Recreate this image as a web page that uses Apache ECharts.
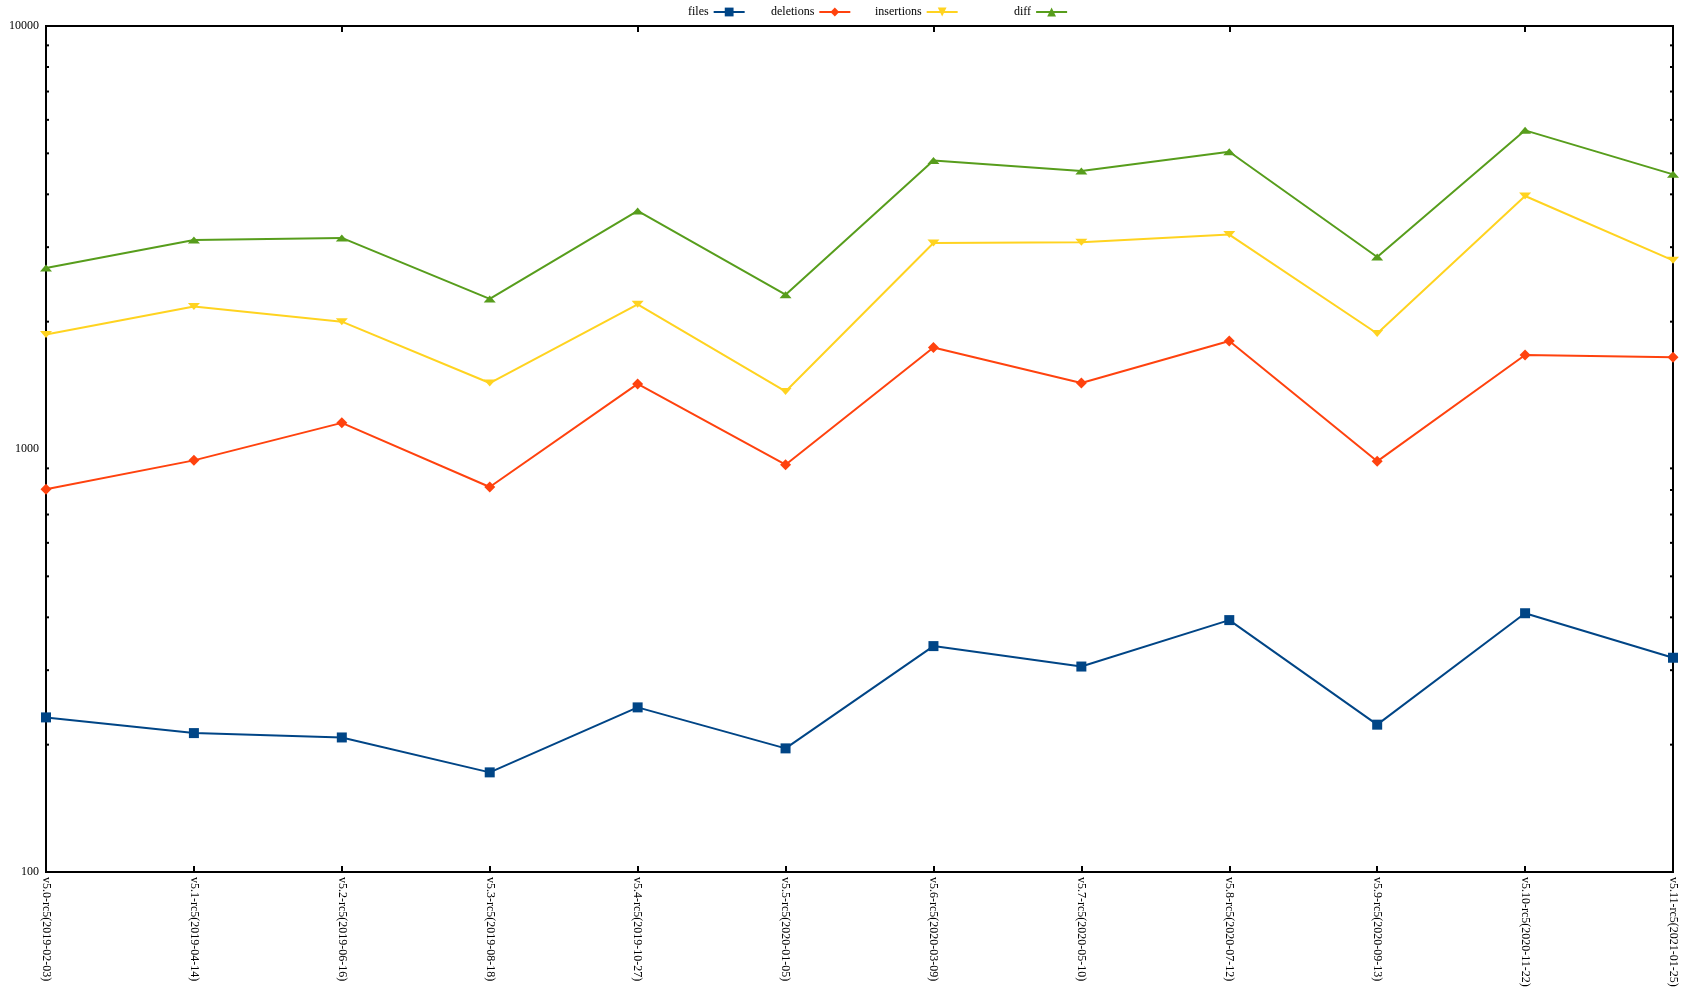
<!DOCTYPE html>
<html><head><meta charset="utf-8">
<script src="https://cdn.jsdelivr.net/npm/echarts@6/dist/echarts.min.js"></script>
<style>html,body{margin:0;padding:0;background:#fff}#c{width:1684px;height:1008px}</style>
</head><body><div id="c"></div>
<script>
var categories = ['v5.0-rc5(2019-02-03)','v5.1-rc5(2019-04-14)','v5.2-rc5(2019-06-16)','v5.3-rc5(2019-08-18)','v5.4-rc5(2019-10-27)','v5.5-rc5(2020-01-05)','v5.6-rc5(2020-03-09)','v5.7-rc5(2020-05-10)','v5.8-rc5(2020-07-12)','v5.9-rc5(2020-09-13)','v5.10-rc5(2020-11-22)','v5.11-rc5(2021-01-25)'];
var files      = [232, 213, 208, 172, 245, 196, 342, 306, 394, 223, 409, 321];
var deletions  = [803, 940, 1153, 813, 1425, 918, 1738, 1432, 1800, 935, 1668, 1648];
var insertions = [1866, 2173, 2000, 1432, 2198, 1368, 3068, 3083, 3213, 1875, 3963, 2793];
var diff       = [2679, 3119, 3155, 2264, 3654, 2317, 4810, 4539, 5043, 2843, 5666, 4459];
var minorTicks = [200,300,400,500,600,700,800,900,2000,3000,4000,5000,6000,7000,8000,9000];

var font = '"Liberation Serif", "DejaVu Serif", serif';
var colors = ['#004586', '#ff420e', '#ffd320', '#579d1c'];
function mkLegend(name, left) {
  return {data: [name], left: left, top: 6, padding: 0, align: 'right', itemWidth: 31, itemHeight: 11, itemGap: 0,
    textStyle: {fontFamily: font, fontSize: 12, color: '#000'}, selectedMode: false};
}
function lineSeries(name, data, symbol, rotate, size, color) {
  return {name: name, type: 'line', data: data, symbol: symbol, symbolRotate: rotate, symbolSize: size,
    showSymbol: true, itemStyle: {color: color}, lineStyle: {color: color, width: 2}, z: 5, animation: false};
}
var chart = echarts.init(document.getElementById('c'), null, {renderer: 'canvas'});
chart.setOption({
  animation: false,
  color: colors,
  legend: [mkLegend('files', 688), mkLegend('deletions', 771), mkLegend('insertions', 875), mkLegend('diff', 1014)],
  grid: {left: 46, right: 11, top: 26, bottom: 136, show: true, borderColor: '#000', borderWidth: 2, containLabel: false},
  xAxis: [{type: 'category', data: categories, boundaryGap: false, position: 'bottom',
    axisLine: {lineStyle: {color: '#000', width: 2}}, axisTick: {inside: true, length: 6, lineStyle: {color: '#000', width: 2}},
    axisLabel: {rotate: -90, fontFamily: font, fontSize: 12, color: '#000', margin: 5, interval: 0}, splitLine: {show: false}},
   {type: 'category', data: categories, boundaryGap: false, position: 'top',
    axisLine: {show: false}, axisTick: {inside: true, length: 6, lineStyle: {color: '#000', width: 2}},
    axisLabel: {show: false}, splitLine: {show: false}}],
  yAxis: [{type: 'log', logBase: 10, min: 100, max: 10000, position: 'left',
    axisLine: {show: true, lineStyle: {color: '#000', width: 2}}, axisTick: {inside: true, length: 6, lineStyle: {color: '#000', width: 2}},
    axisLabel: {fontFamily: font, fontSize: 12, color: '#000', margin: 7, formatter: function (v) { return String(Math.round(v)); }}, splitLine: {show: false}},
   {type: 'log', logBase: 10, min: 100, max: 10000, position: 'right',
    axisLine: {show: false}, axisTick: {inside: true, length: 6, lineStyle: {color: '#000', width: 2}},
    axisLabel: {show: false}, splitLine: {show: false}}],
  series: [
    lineSeries('files', files, 'rect', 0, 10, colors[0]),
    lineSeries('deletions', deletions, 'diamond', 0, 11, colors[1]),
    lineSeries('insertions', insertions, 'triangle', 180, [12, 7], colors[2]),
    lineSeries('diff', diff, 'triangle', 0, [12, 7], colors[3]),
    {type: 'custom', silent: true, z: 3, data: minorTicks.map(function (v) { return [v]; }),
      renderItem: function (params, api) {
        var v = api.value(0);
        var l = api.coord([0, v]);
        var r = api.coord([categories.length - 1, v]);
        return {type: 'group', children: [
          {type: 'line', shape: {x1: l[0], y1: l[1], x2: l[0] + 3, y2: l[1]}, style: {stroke: '#000', lineWidth: 2}},
          {type: 'line', shape: {x1: r[0] - 3, y1: r[1], x2: r[0], y2: r[1]}, style: {stroke: '#000', lineWidth: 2}}
        ]};
      }, encode: {y: 0}}
  ]
});
</script></body></html>
